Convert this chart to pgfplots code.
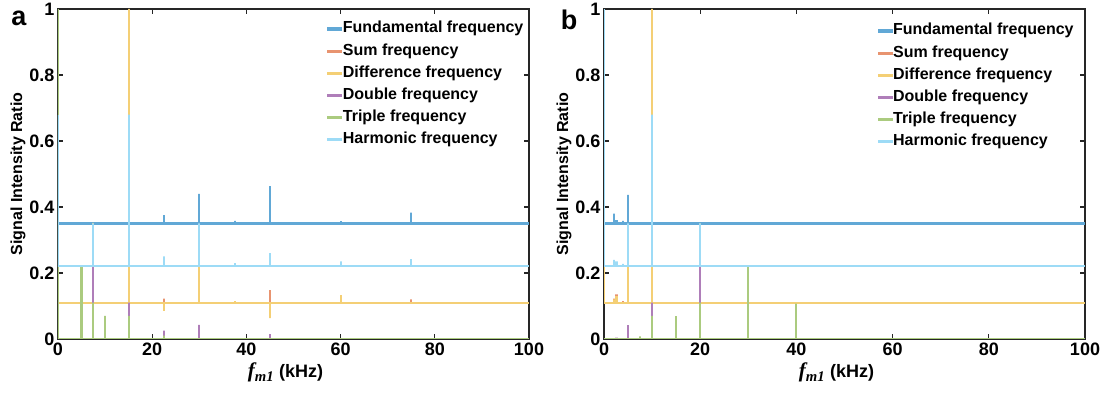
\documentclass[border=0pt]{standalone}
\usepackage{fontspec}
\setmainfont{Liberation Sans}
\newfontfamily\tnr{Liberation Serif}
\usepackage{pgfplots}
\pgfplotsset{compat=1.18}
\definecolor{cfund}{RGB}{0,114,189}
\definecolor{csum}{RGB}{217,83,25}
\definecolor{cdiff}{RGB}{237,177,32}
\definecolor{cdbl}{RGB}{126,47,142}
\definecolor{ctri}{RGB}{119,172,48}
\definecolor{charm}{RGB}{77,190,238}
\definecolor{axiscol}{RGB}{38,38,38}
\colorlet{pfund}{cfund!62!white}
\colorlet{psum}{csum!62!white}
\colorlet{pdiff}{cdiff!62!white}
\colorlet{pdbl}{cdbl!62!white}
\colorlet{ptri}{ctri!62!white}
\colorlet{pharm}{charm!55!white}
\pgfplotsset{
  spec/.style={
    scale only axis, height=330pt,
    xmin=0,xmax=100,ymin=0,ymax=1,
    xtick={0,20,40,60,80,100}, ytick={0,0.2,0.4,0.6,0.8,1},
    tick align=inside, major tick length=5pt,
    axis line style={draw=axiscol, line width=1.3pt},
    tick style={draw=axiscol, line width=1.3pt},
    /pgf/number format/assume math mode=true,
    ticklabel style={font=\fontsize{18}{18}\selectfont\bfseries},
    yticklabel style={/pgf/number format/fixed,/pgf/number format/precision=1},
    ylabel={Signal Intensity Ratio},
    ylabel style={font=\fontsize{16}{16}\selectfont\bfseries, yshift=-3pt},
    xlabel={{\tnr\bfseries\itshape\fontsize{21}{21}\selectfont f\textsubscript{m1}} \bfseries(kHz)},
    xlabel style={font=\fontsize{18}{18}\selectfont, yshift=-1pt, xshift=-8pt},
    legend cell align=left,
    legend style={draw=none, fill=none, anchor=north west, row sep=4.6pt,
      font=\fontsize{16}{16}\selectfont\bfseries,
      nodes={text height=12pt, text depth=4.5pt, inner sep=0.5pt}},
    legend image code/.code={\fill[#1] (0pt,-0.65pt) rectangle (13pt,0.65pt);},
    every axis plot/.append style={line width=2.1pt, mark=none},
  }
}
\begin{document}
\begin{tikzpicture}
\begin{axis}[spec, at={(58pt,57pt)}, anchor=south west, width=471pt,
  legend style={at={(rel axis cs:0.565,0.972)}}]
\addplot[pfund] coordinates {(0,0.35) (22.5,0.35)(22.5,0.375)(22.5,0.35) (30,0.35)(30,0.44)(30,0.35) (37.5,0.35)(37.5,0.358)(37.5,0.35) (45,0.35)(45,0.463)(45,0.35) (52.5,0.35)(52.5,0.353)(52.5,0.35) (60,0.35)(60,0.357)(60,0.35) (75,0.35)(75,0.383)(75,0.35) (100,0.35)};
\addlegendentry{Fundamental frequency}
\addplot[psum] coordinates {(0,0.11) (15,0.11)(15,0.22)(15,0.11) (22.5,0.11)(22.5,0.122)(22.5,0.11) (30,0.11)(30,0.14)(30,0.11) (45,0.11)(45,0.148)(45,0.11) (75,0.11)(75,0.12)(75,0.11) (100,0.11)};
\addlegendentry{Sum frequency}
\addplot[pdiff] coordinates {(0,0.11) (7.5,0.11)(7.5,0.352)(7.5,0.11) (15,0.11)(15,1)(15,0.11) (22.5,0.11)(22.5,0.085)(22.5,0.11) (30,0.11)(30,0.22)(30,0.11) (37.5,0.11)(37.5,0.115)(37.5,0.11) (45,0.11)(45,0.063)(45,0.11) (60,0.11)(60,0.133)(60,0.11) (100,0.11)};
\addlegendentry{Difference frequency}
\addplot[pdbl] coordinates {(0,0) (7.5,0)(7.5,0.22)(7.5,0) (15,0)(15,0.11)(15,0) (22.5,0)(22.5,0.025)(22.5,0) (30,0)(30,0.043)(30,0) (45,0)(45,0.015)(45,0) (100,0)};
\addlegendentry{Double frequency}
\addplot[ptri] coordinates {(0,1)(0,0) (5,0)(5,0.22)(5,0) (7.5,0)(7.5,0.11)(7.5,0) (10,0)(10,0.07)(10,0) (15,0)(15,0.07)(15,0) (22.5,0)(22.5,0.01)(22.5,0) (100,0)};
\addlegendentry{Triple frequency}
\addplot[pharm] coordinates {(0,0.68)(0,0.22) (7.5,0.22)(7.5,0.35)(7.5,0.22) (15,0.22)(15,0.68)(15,0.22) (22.5,0.22)(22.5,0.25)(22.5,0.22) (30,0.22)(30,0.35)(30,0.22) (37.5,0.22)(37.5,0.23)(37.5,0.22) (45,0.22)(45,0.26)(45,0.22) (60,0.22)(60,0.235)(60,0.22) (75,0.22)(75,0.242)(75,0.22) (100,0.22)};
\addlegendentry{Harmonic frequency}
\end{axis}
\begin{axis}[spec, at={(604pt,57pt)}, anchor=south west, width=481pt,
  legend style={at={(rel axis cs:0.562,0.966)}}]
\addplot[pfund] coordinates {(0,0.35) (2,0.35)(2,0.38)(2,0.35) (2.6,0.35)(2.6,0.36)(2.6,0.35) (4,0.35)(4,0.358)(4,0.35) (5,0.35)(5,0.437)(5,0.35) (100,0.35)};
\addlegendentry{Fundamental frequency}
\addplot[psum] coordinates {(0,0.11) (2,0.11)(2,0.122)(2,0.11) (2.6,0.11)(2.6,0.135)(2.6,0.11) (4,0.11)(4,0.115)(4,0.11) (5,0.11)(5,0.14)(5,0.11) (10,0.11)(10,0.22)(10,0.11) (100,0.11)};
\addlegendentry{Sum frequency}
\addplot[pdiff] coordinates {(0,0.22)(0,0.11) (2,0.11)(2,0.12)(2,0.11) (2.6,0.11)(2.6,0.13)(2.6,0.11) (5,0.11)(5,0.22)(5,0.11) (10,0.11)(10,1)(10,0.11) (20,0.11)(20,0.35)(20,0.11) (100,0.11)};
\addlegendentry{Difference frequency}
\addplot[pdbl] coordinates {(0,0) (2.6,0)(2.6,0.004)(2.6,0) (5,0)(5,0.042)(5,0) (10,0)(10,0.11)(10,0) (20,0)(20,0.22)(20,0) (100,0)};
\addlegendentry{Double frequency}
\addplot[ptri] coordinates {(0,0) (7.5,0)(7.5,0.008)(7.5,0) (10,0)(10,0.07)(10,0) (15,0)(15,0.069)(15,0) (20,0)(20,0.11)(20,0) (30,0)(30,0.218)(30,0) (40,0)(40,0.107)(40,0) (100,0)};
\addlegendentry{Triple frequency}
\addplot[pharm] coordinates {(0,1)(0,0.22) (2,0.22)(2,0.24)(2,0.22) (2.6,0.22)(2.6,0.235)(2.6,0.22) (4,0.22)(4,0.228)(4,0.22) (5,0.22)(5,0.35)(5,0.22) (10,0.22)(10,0.68)(10,0.22) (20,0.22)(20,0.35)(20,0.22) (100,0.22)};
\addlegendentry{Harmonic frequency}
\end{axis}
\node[font=\fontsize{27}{27}\selectfont\bfseries] at (19pt,378pt) {a};
\node[font=\fontsize{27}{27}\selectfont\bfseries] at (569pt,376pt) {b};
\pgfresetboundingbox
\path[use as bounding box] (0,0) rectangle (1103pt,396pt);
\end{tikzpicture}
\end{document}
